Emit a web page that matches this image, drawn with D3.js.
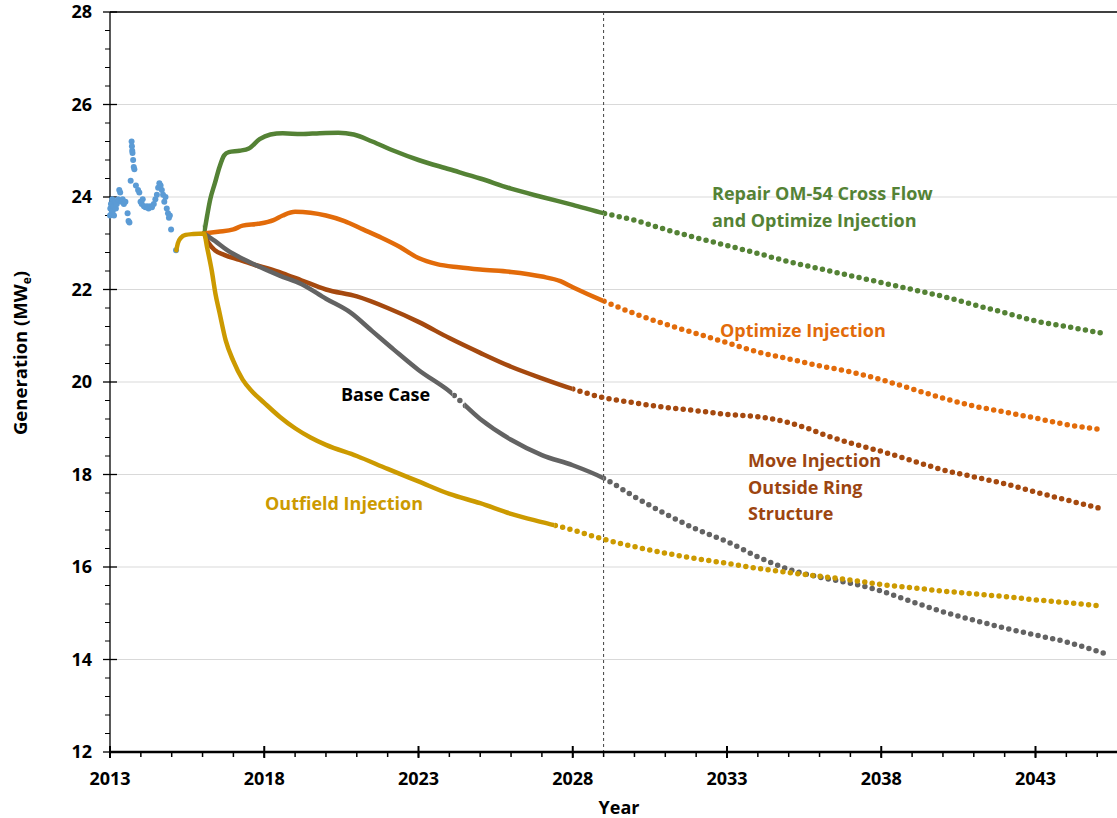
<!DOCTYPE html>
<html>
<head>
<meta charset="utf-8">
<script src="https://cdn.jsdelivr.net/npm/d3@7"></script>
<style>
  body { margin: 0; background: #fff; }
  svg { display: block; font-family: "Open Sans", sans-serif; font-weight: bold; }
</style>
</head>
<body>
<svg width="1117" height="818"></svg>
<script>
// measured history (scatter)
var histPts = [
  [2013.00,23.60],[2013.01,23.75],[2013.03,23.85],[2013.05,23.65],[2013.07,23.95],[2013.09,23.70],
  [2013.11,23.80],[2013.13,23.60],[2013.16,23.90],[2013.19,23.75],[2013.22,23.85],[2013.26,23.95],
  [2013.30,24.15],[2013.33,24.10],[2013.37,23.90],[2013.41,23.95],[2013.45,23.85],[2013.50,23.90],
  [2013.57,23.65],[2013.60,23.48],[2013.63,23.45],[2013.67,24.35],[2013.70,25.20],[2013.71,25.10],
  [2013.72,25.00],[2013.73,24.95],[2013.75,24.80],[2013.77,24.65],[2013.79,24.60],[2013.84,24.25],
  [2013.91,24.15],[2013.95,24.10],[2013.99,23.90],[2014.03,23.85],[2014.06,23.95],[2014.10,23.80],
  [2014.15,23.78],[2014.20,23.80],[2014.25,23.75],[2014.30,23.80],[2014.36,23.78],[2014.42,23.85],
  [2014.47,23.95],[2014.52,24.05],[2014.56,24.20],[2014.60,24.30],[2014.64,24.25],[2014.68,24.15],
  [2014.72,24.05],[2014.76,23.90],[2014.80,24.00],[2014.84,23.75],[2014.88,23.65],[2014.91,23.55],
  [2014.94,23.60],[2014.98,23.30],[2015.14,22.85]
];

// forecasts
var greenPts = [
  [2016.05,23.21],[2016.15,23.6],[2016.25,23.95],[2016.4,24.3],[2016.55,24.65],[2016.7,24.9],
  [2016.85,24.97],[2017.2,25.0],[2017.5,25.05],[2017.85,25.25],[2018.2,25.35],[2018.6,25.38],
  [2019.2,25.36],[2019.8,25.38],[2020.4,25.39],[2020.9,25.35],[2021.5,25.2],[2022.2,25.0],
  [2023.0,24.8],[2024.0,24.6],[2025.0,24.4],[2026.0,24.18],[2027.0,24.0],[2028.0,23.83],
  [2029.0,23.65],[2030.0,23.5],[2031.0,23.3],[2032.0,23.12],[2033.0,22.95],[2034.0,22.78],
  [2035.0,22.6],[2036.0,22.45],[2037.0,22.3],[2038.0,22.15],[2039.0,22.0],[2040.0,21.85],
  [2041.0,21.67],[2042.0,21.5],[2043.0,21.32],[2044.0,21.2],[2045.2,21.05]
];
var orangePts = [
  [2016.05,23.21],[2016.5,23.25],[2017.0,23.3],[2017.3,23.38],[2017.8,23.42],[2018.3,23.5],
  [2018.6,23.6],[2019.0,23.68],[2019.5,23.66],[2020.0,23.6],[2020.6,23.48],[2021.2,23.3],
  [2021.8,23.12],[2022.4,22.92],[2023.0,22.68],[2023.6,22.55],[2024.3,22.48],[2025.0,22.43],
  [2026.0,22.38],[2027.0,22.28],[2027.6,22.18],[2028.0,22.05],[2029.0,21.75],[2030.0,21.48],
  [2031.0,21.25],[2032.0,21.05],[2033.0,20.85],[2034.0,20.65],[2035.0,20.5],[2036.0,20.35],
  [2037.0,20.22],[2038.0,20.05],[2039.0,19.85],[2040.0,19.65],[2041.0,19.48],[2042.0,19.35],
  [2043.0,19.22],[2044.0,19.08],[2045.2,18.97]
];
var brownPts = [
  [2016.05,23.21],[2016.2,23.0],[2016.4,22.85],[2016.7,22.75],[2017.2,22.64],[2017.7,22.53],
  [2018.2,22.44],[2018.6,22.35],[2019.2,22.2],[2020.0,22.0],[2021.0,21.85],[2022.0,21.6],
  [2023.0,21.3],[2024.0,20.95],[2025.0,20.63],[2026.0,20.33],[2027.0,20.08],[2028.0,19.85],
  [2029.0,19.66],[2030.0,19.55],[2031.0,19.45],[2032.0,19.38],[2033.0,19.3],[2034.0,19.25],
  [2035.0,19.12],[2035.6,19.0],[2036.2,18.85],[2037.0,18.68],[2038.0,18.5],[2039.0,18.3],
  [2040.0,18.1],[2041.0,17.95],[2042.0,17.8],[2043.0,17.62],[2044.0,17.45],[2045.2,17.25]
];
var grayPts = [
  [2016.05,23.21],[2016.4,23.05],[2016.8,22.85],[2017.5,22.6],[2018.5,22.3],[2019.2,22.12],
  [2020.0,21.8],[2020.8,21.5],[2021.5,21.1],[2022.2,20.7],[2023.0,20.26],[2024.0,19.8],
  [2025.0,19.2],[2026.0,18.75],[2027.0,18.42],[2028.0,18.2],[2029.0,17.92],[2030.0,17.52],
  [2031.0,17.15],[2032.0,16.82],[2033.0,16.55],[2034.0,16.22],[2035.0,15.95],[2036.0,15.78],
  [2037.0,15.65],[2038.0,15.48],[2039.0,15.25],[2040.0,15.03],[2041.0,14.85],[2042.0,14.68],
  [2043.0,14.53],[2044.0,14.38],[2045.2,14.14]
];
var yellowPts = [
  [2015.15,22.85],[2015.2,23.0],[2015.3,23.12],[2015.45,23.18],[2015.7,23.2],[2016.05,23.21],
  [2016.15,22.9],[2016.3,22.4],[2016.42,21.9],[2016.55,21.5],[2016.75,20.9],[2017.0,20.45],
  [2017.3,20.05],[2017.6,19.8],[2018.0,19.55],[2018.5,19.25],[2019.0,19.0],[2019.5,18.8],
  [2020.0,18.64],[2021.0,18.4],[2022.0,18.12],[2023.0,17.85],[2024.0,17.58],[2025.0,17.38],
  [2026.0,17.15],[2027.0,16.97],[2028.0,16.8],[2029.0,16.6],[2030.0,16.44],[2031.0,16.3],
  [2032.0,16.18],[2033.0,16.08],[2034.0,15.97],[2035.0,15.88],[2036.0,15.8],[2037.0,15.72],
  [2038.0,15.62],[2039.0,15.55],[2040.0,15.48],[2041.0,15.42],[2042.0,15.36],[2043.0,15.29],
  [2044.0,15.23],[2045.2,15.15]
];

var xTickYears = [2013, 2018, 2023, 2028, 2033, 2038, 2043];
var yTickValues = [12, 14, 16, 18, 20, 22, 24, 26, 28];
var forecastStart = 2029;

var series = [
  {name: "green",  pts: greenPts,  color: "#548235", solid: [[2016, 2029]]},
  {name: "orange", pts: orangePts, color: "#E26B0A", solid: [[2016, 2029]]},
  {name: "brown",  pts: brownPts,  color: "#A5490F", solid: [[2016, 2028]]},
  {name: "gray",   pts: grayPts,   color: "#636363", solid: [[2016, 2024.1], [2024.5, 2029]]},
  {name: "yellow", pts: yellowPts, color: "#CC9A00", solid: [[2015, 2027.4]]}
];

var labels = [
  {lines: ["Repair OM-54 Cross Flow", "and Optimize Injection"], x: 712, y: 200, color: "#548235"},
  {lines: ["Optimize Injection"], x: 720, y: 337, color: "#E26B0A"},
  {lines: ["Base Case"], x: 341, y: 401, color: "#000"},
  {lines: ["Move Injection", "Outside Ring", "Structure"], x: 748, y: 467, color: "#9C4510"},
  {lines: ["Outfield Injection"], x: 265, y: 510, color: "#CC9A00"}
];

var svg = d3.select("svg"),
    W = +svg.attr("width"),
    plotLeft = 110, plotTop = 12, plotBottom = 752;

var x = d3.scaleLinear().domain([2013, 2043]).range([plotLeft, 1035.5]);
var y = d3.scaleLinear().domain([12, 28]).range([plotBottom, plotTop]);

// gridlines
svg.append("g").selectAll("line")
    .data(yTickValues.filter(function(v) { return v > 12 && v < 28; }))
    .enter().append("line")
    .attr("x1", plotLeft).attr("x2", W)
    .attr("y1", function(d) { return y(d); }).attr("y2", function(d) { return y(d); })
    .attr("stroke", "#D9D9D9").attr("stroke-width", 1);

// top border
svg.append("line").attr("x1", plotLeft).attr("x2", W).attr("y1", y(28)).attr("y2", y(28))
    .attr("stroke", "#000").attr("stroke-width", 1.3);

// forecast divider
svg.append("line")
    .attr("x1", x(forecastStart)).attr("x2", x(forecastStart))
    .attr("y1", plotTop).attr("y2", plotBottom)
    .attr("stroke", "#404040").attr("stroke-width", 1).attr("stroke-dasharray", "3,3");

// y axis
var yAxis = svg.append("g");
yAxis.append("line").attr("x1", plotLeft).attr("x2", plotLeft).attr("y1", plotTop).attr("y2", plotBottom)
    .attr("stroke", "#000").attr("stroke-width", 1.3);
yAxis.selectAll(".minor")
    .data(d3.range(12, 28.01, 0.4).filter(function(v) { return Math.abs(v / 2 - Math.round(v / 2)) > 0.01; }))
    .enter().append("line")
    .attr("x1", plotLeft - 5).attr("x2", plotLeft)
    .attr("y1", function(d) { return y(d); }).attr("y2", function(d) { return y(d); })
    .attr("stroke", "#000").attr("stroke-width", 1);
yAxis.selectAll(".major")
    .data(yTickValues).enter().append("line")
    .attr("x1", plotLeft - 7).attr("x2", plotLeft + 7)
    .attr("y1", function(d) { return y(d); }).attr("y2", function(d) { return y(d); })
    .attr("stroke", "#000").attr("stroke-width", 1.3);
yAxis.selectAll("text")
    .data(yTickValues).enter().append("text")
    .attr("x", 92).attr("y", function(d) { return y(d); })
    .attr("dy", "0.36em").attr("text-anchor", "end")
    .attr("font-size", 18).text(function(d) { return d; });

// x axis
var xAxis = svg.append("g");
xAxis.selectAll(".minor")
    .data(d3.range(2014, 2047)).enter().append("line")
    .attr("x1", function(d) { return x(d); }).attr("x2", function(d) { return x(d); })
    .attr("y1", plotBottom).attr("y2", plotBottom + 5)
    .attr("stroke", "#000").attr("stroke-width", 1.5);
xAxis.selectAll(".major")
    .data(xTickYears).enter().append("line")
    .attr("x1", function(d) { return x(d); }).attr("x2", function(d) { return x(d); })
    .attr("y1", plotBottom - 6).attr("y2", plotBottom + 6)
    .attr("stroke", "#000").attr("stroke-width", 2);
xAxis.append("line").attr("x1", plotLeft).attr("x2", W).attr("y1", plotBottom).attr("y2", plotBottom)
    .attr("stroke", "#000").attr("stroke-width", 2.5);
xAxis.selectAll("text")
    .data(xTickYears).enter().append("text")
    .attr("x", function(d) { return x(d); }).attr("y", 785)
    .attr("text-anchor", "middle").attr("font-size", 18)
    .text(function(d) { return d; });

// axis titles
svg.append("text").attr("x", 619).attr("y", 814).attr("text-anchor", "middle")
    .attr("font-size", 18).text("Year");
var yt = svg.append("text").attr("transform", "translate(27,353) rotate(-90)")
    .attr("text-anchor", "middle").attr("font-size", 18.5);
yt.append("tspan").text("Generation (MW");
yt.append("tspan").attr("font-size", 12).attr("dy", 4).text("e");
yt.append("tspan").attr("dy", -4).text(")");

// history dots
svg.append("g").selectAll("circle")
    .data(histPts).enter().append("circle")
    .attr("cx", function(d) { return x(d[0]); })
    .attr("cy", function(d) { return y(d[1]); })
    .attr("r", 3).attr("fill", "#5B9BD5");

// forecast lines: solid where output is dense, dotted where sparse
var line = d3.line()
    .x(function(d) { return x(d[0]); })
    .y(function(d) { return y(d[1]); })
    .curve(d3.curveMonotoneX);

var defs = svg.append("defs");
series.forEach(function(s) {
  var solidClip = defs.append("clipPath").attr("id", "solid-" + s.name);
  s.solid.forEach(function(r) {
    solidClip.append("rect").attr("x", x(r[0])).attr("width", x(r[1]) - x(r[0]))
        .attr("y", 0).attr("height", 818);
  });
  var dotClip = defs.append("clipPath").attr("id", "dot-" + s.name);
  var edges = [2012].concat(d3.merge(s.solid)).concat([2050]);
  for (var i = 0; i < edges.length; i += 2) {
    dotClip.append("rect").attr("x", x(edges[i])).attr("width", x(edges[i + 1]) - x(edges[i]))
        .attr("y", 0).attr("height", 818);
  }
});

series.forEach(function(s) {
  var g = svg.append("g");
  g.append("path").datum(s.pts)
      .attr("d", line).attr("fill", "none")
      .attr("stroke", s.color).attr("stroke-width", 4.5)
      .attr("stroke-linecap", "round")
      .attr("clip-path", "url(#solid-" + s.name + ")");
  g.append("path").datum(s.pts)
      .attr("d", line).attr("fill", "none")
      .attr("stroke", s.color).attr("stroke-width", 5.5)
      .attr("stroke-linecap", "round").attr("stroke-dasharray", "0 7.5")
      .attr("clip-path", "url(#dot-" + s.name + ")");
});

// series labels
labels.forEach(function(l) {
  var t = svg.append("text").attr("fill", l.color).attr("font-size", 18);
  l.lines.forEach(function(s, i) {
    t.append("tspan").attr("x", l.x).attr("y", l.y + i * 26.5).text(s);
  });
});
</script>
</body>
</html>
